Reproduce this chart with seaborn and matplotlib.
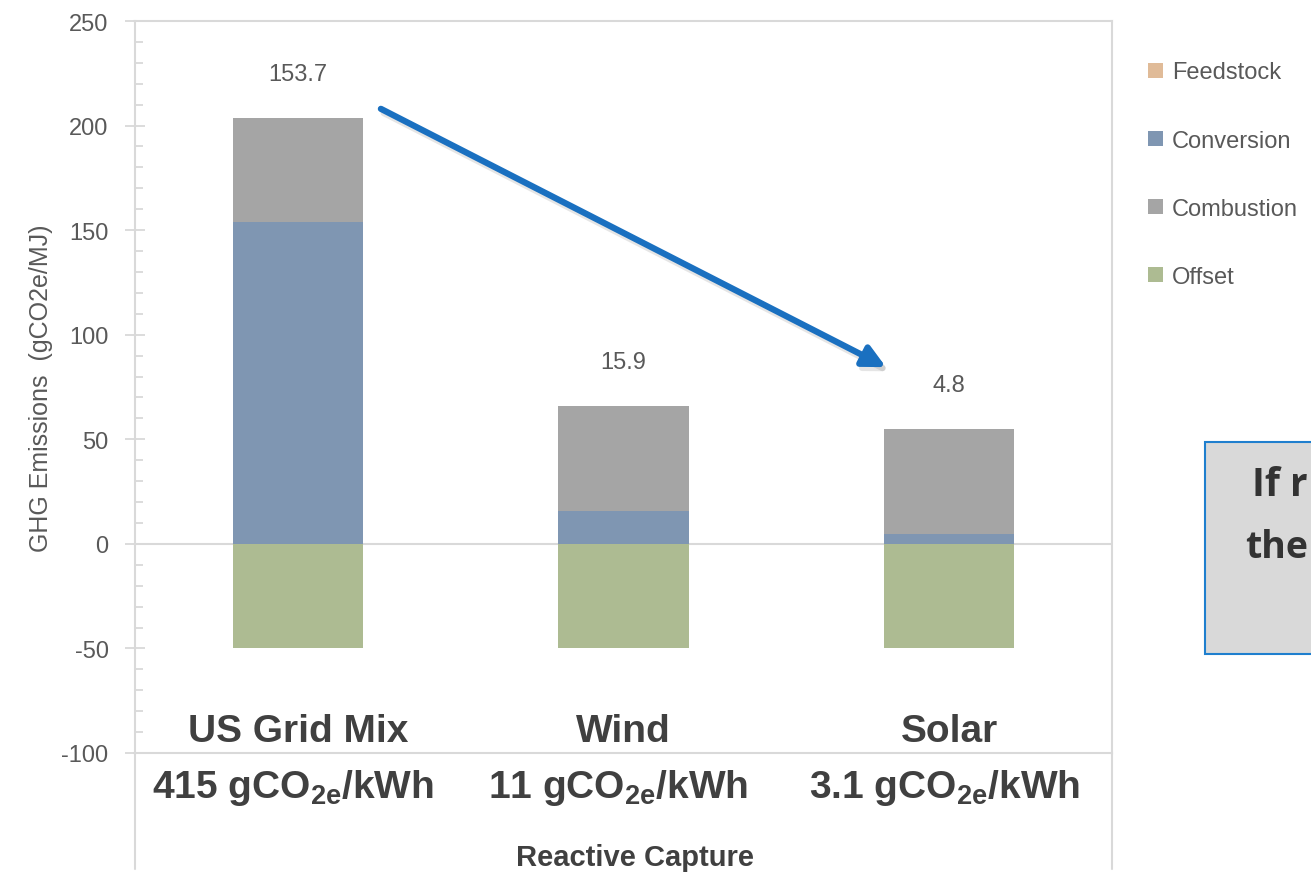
import matplotlib
matplotlib.use("Agg")
import matplotlib.pyplot as plt
from matplotlib import font_manager
from matplotlib.patches import Rectangle
import matplotlib.patheffects as pe
import numpy as np
import pandas as pd
import seaborn as sns

# ---- data -------------------------------------------------------------
categories = ["US Grid Mix", "Wind", "Solar"]
intensity_labels = ["415 gCO$_{\\mathrm{2e}}$/kWh",
                    "11 gCO$_{\\mathrm{2e}}$/kWh",
                    "3.1 gCO$_{\\mathrm{2e}}$/kWh"]
feedstock = [0.0, 0.0, 0.0]
conversion = [153.7, 15.9, 4.8]
combustion = [50.0, 50.0, 50.0]
offset = [-50.0, -50.0, -50.0]

series_names = ["Feedstock", "Conversion", "Combustion", "Offset"]
series_colors = ["#e0bb98", "#7f96b2", "#a5a5a5", "#adbb92"]

# ---- fonts --------------------------------------------------------------
sns.set_theme(style="white")
available = {f.name for f in font_manager.fontManager.ttflist}
narrow = "Liberation Sans Narrow" if "Liberation Sans Narrow" in available else "Liberation Sans"
plt.rcParams["font.family"] = [narrow, "DejaVu Sans"]
plt.rcParams["axes.unicode_minus"] = False
plt.rcParams["mathtext.fontset"] = "custom"
plt.rcParams["mathtext.rm"] = f"{narrow}:bold"
plt.rcParams["mathtext.it"] = f"{narrow}:bold"
plt.rcParams["mathtext.bf"] = f"{narrow}:bold"

W, H = 1311, 879
fig = plt.figure(figsize=(W / 100, H / 100), dpi=100)
ax = fig.add_axes([135 / W, 1 - 754 / H, (1112 - 135) / W, (754 - 22) / H])

df = pd.DataFrame({
    "category": categories,
    "Feedstock": feedstock,
    "Conversion": conversion,
    "Combustion": combustion,
    "Offset": offset,
})

conv = np.array(conversion)
bottoms = {
    "Feedstock": np.zeros(len(categories)),
    "Conversion": np.zeros(len(categories)),
    "Combustion": conv,
    "Offset": np.zeros(len(categories)),
}

for name, color in zip(series_names, series_colors):
    sns.barplot(data=df, x="category", y=name, color=color, width=0.4,
                bottom=bottoms[name], label=name, ax=ax, linewidth=0,
                edgecolor="none", errorbar=None, saturation=1)

handles, labels = ax.get_legend_handles_labels()
if ax.get_legend() is not None:
    ax.get_legend().remove()

# ---- axes styling -------------------------------------------------------
grid_c = "#d9d9d9"
ax.set_xlim(-0.5, 2.5)
ax.set_ylim(-100, 250)
ax.set_xlabel("")
ax.set_ylabel("GHG Emissions  (gCO2e/MJ)", fontsize=18, color="#595959", labelpad=6)
ax.set_xticks([])
ax.set_yticks(np.arange(-100, 251, 50))
ax.set_yticks(np.arange(-100, 251, 10), minor=True)
ax.tick_params(axis="y", which="major", direction="inout", length=14, width=1.3,
               color=grid_c, labelsize=17, labelcolor="#595959", pad=12, left=True)
ax.tick_params(axis="y", which="minor", direction="in", length=6, width=1.3,
               color=grid_c, left=True)
for s in ax.spines.values():
    s.set_color(grid_c)
    s.set_linewidth(1.5)
    s.set_visible(True)
ax.axhline(0, color=grid_c, lw=1.5, zorder=0.5)

# axis frame continues below the value range into the label area
ext = -(870 - 754) / (754 - 22)
for xa in (0, 1):
    ax.plot([xa, xa], [0, ext], transform=ax.transAxes, color=grid_c,
            lw=1.5, clip_on=False)

# ---- totals above bars --------------------------------------------------
totals = conv + np.array(combustion)
for i, (t, v) in enumerate(zip(totals, conversion)):
    ax.annotate(f"{v:.1f}", xy=(i, t), xytext=(0, 44), textcoords="offset pixels",
                ha="center", va="center", fontsize=17, color="#595959")

# ---- category labels ----------------------------------------------------
trans = ax.get_xaxis_transform()
for i, (cat, lab) in enumerate(zip(categories, intensity_labels)):
    ax.text(i, 0.030, cat, transform=trans, ha="center", va="center",
            fontsize=28, fontweight="bold", color="#404040")
    ax.text(i - 0.015, -0.046, lab, transform=trans, ha="center", va="center",
            fontsize=28, fontweight="bold", color="#404040")
ax.text(0.512, -0.142, "Reactive Capture", transform=ax.transAxes, ha="center",
        va="center", fontsize=21, fontweight="bold", color="#404040")

# ---- legend -------------------------------------------------------------
fig.legend(handles[:4], labels[:4], loc="upper left",
           bbox_to_anchor=(1139 / W, 1 - 53 / H), frameon=False,
           fontsize=17, labelcolor="#595959", handlelength=0.6,
           handleheight=0.6, handletextpad=0.4, labelspacing=1.96,
           borderaxespad=0)

# ---- trend arrow ---------------------------------------------------------
ax.annotate("", xy=(1.806, 84.5), xytext=(0.255, 208),
            arrowprops=dict(arrowstyle="-|>,head_length=1.1,head_width=0.55",
                            color="#1a70c0", lw=4.5, shrinkA=0, shrinkB=0,
                            path_effects=[pe.SimpleLineShadow(offset=(2, -3),
                                                              alpha=0.15, shadow_color="#555555"),
                                          pe.Normal()]),
            annotation_clip=False)

# ---- callout box on the right -------------------------------------------
fig.patches.append(Rectangle((1205 / W, 1 - 655 / H), 0.2, (655 - 443) / H,
                             transform=fig.transFigure, facecolor="#d9d9d9",
                             edgecolor="#1f7fce", lw=1.5, zorder=0))
fig.text(1252 / W, 1 - 486 / H, "If r", fontsize=28, fontweight="bold",
         color="#333333", va="center", ha="left", family=["Open Sans", "DejaVu Sans"])
fig.text(1245 / W, 1 - 548 / H, "the", fontsize=27, fontweight="bold",
         color="#333333", va="center", ha="left", family=["Open Sans", "DejaVu Sans"])

fig.savefig("out.png", dpi=100)
